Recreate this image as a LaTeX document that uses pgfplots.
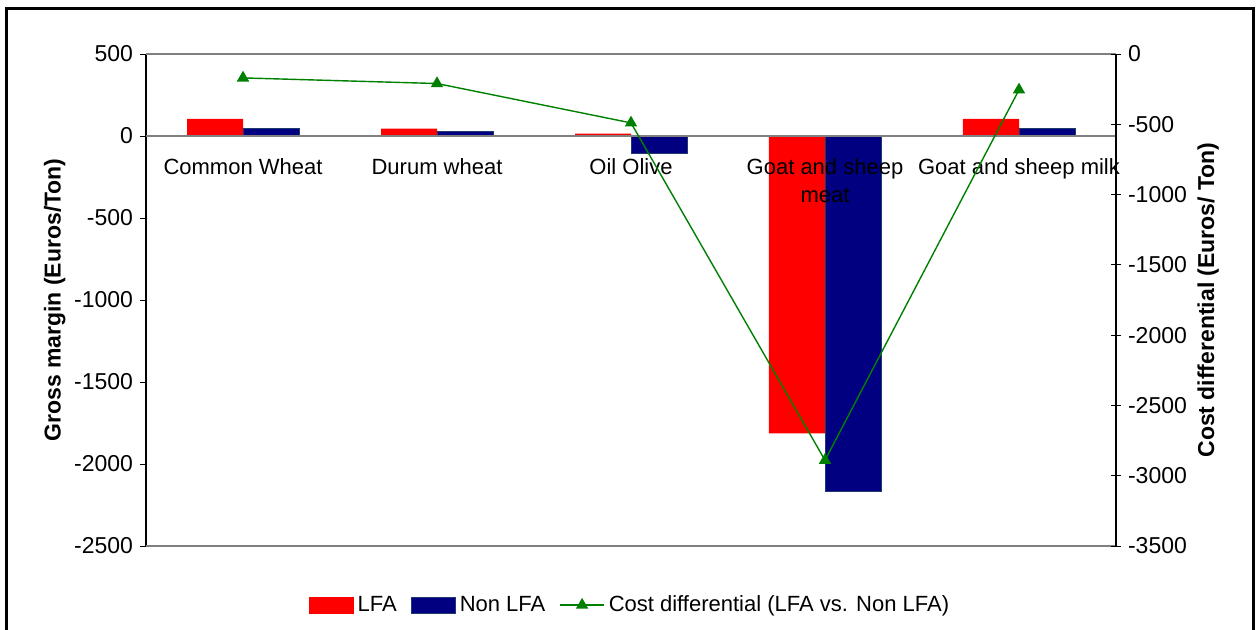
\documentclass[border=0pt]{standalone}
\usepackage{fontspec}
\setmainfont{Liberation Sans}
\usepackage{pgfplots}
\pgfplotsset{compat=1.18}
\definecolor{lfared}{HTML}{FF0000}
\definecolor{nonlfa}{HTML}{000080}
\definecolor{nonlfaedge}{HTML}{1F3A6E}
\definecolor{costgreen}{HTML}{008000}
\definecolor{gridgray}{HTML}{808080}
\pgfplotsset{my line legend/.style={legend image code/.code={\draw[mark repeat=2,mark phase=2,##1] plot coordinates {(0pt,0pt) (11pt,0pt) (22pt,0pt)};}}}
\begin{document}
\begin{tikzpicture}
\path[use as bounding box] (0pt,0pt) rectangle (629pt,314.5pt);
\draw[line width=1.5pt] (3.2pt,-20pt) -- (3.2pt,310.5pt) -- (626.5pt,310.5pt) -- (626.5pt,-20pt);
\begin{axis}[
  at={(73pt,41.5pt)}, anchor=south west,
  width=485pt, height=246pt, scale only axis,
  xmin=-0.5, xmax=4.5, ymin=-2500, ymax=500,
  axis x line=none, axis y line*=left,
  xtick=\empty,
  ytick={-2500,-2000,...,500},
  tick align=outside, major tick length=3pt,
  tick style={black, line width=0.5pt},
  axis line style={black, line width=0.6pt},
  yticklabel style={font=\fontsize{11.5}{13}\selectfont},
  /pgf/number format/assume math mode=true,
  /pgf/number format/1000 sep={},
  every axis y label/.style={at={(axis description cs:-0.094,0.5)}, rotate=90, anchor=center,
     font=\bfseries\fontsize{11.5}{13}\selectfont},
  ylabel={Gross margin (Euros/Ton)},
  ybar=0pt, bar width=28pt,
  clip=false,
]
\draw[gridgray, line width=0.6pt] (axis cs:-0.5,500) -- (axis cs:4.5,500);
\draw[gridgray, line width=0.6pt] (axis cs:-0.5,-2500) -- (axis cs:4.5,-2500);
\addplot[fill=lfared, draw=none] coordinates {(0,105) (1,45) (2,15) (3,-1813) (4,105)};
\addplot[fill=nonlfa, draw=nonlfaedge, line width=0.5pt] coordinates {(0,45) (1,26) (2,-105) (3,-2169) (4,45)};
\draw[gridgray, line width=0.6pt] (axis cs:-0.5,0) -- (axis cs:4.5,0);
\draw[gridgray, line width=0.6pt] (axis cs:0.5,0) ++(0,-2.5pt) -- ++(0,5pt);
\draw[gridgray, line width=0.6pt] (axis cs:1.5,0) ++(0,-2.5pt) -- ++(0,5pt);
\draw[gridgray, line width=0.6pt] (axis cs:2.5,0) ++(0,-2.5pt) -- ++(0,5pt);
\draw[gridgray, line width=0.6pt] (axis cs:3.5,0) ++(0,-2.5pt) -- ++(0,5pt);
\begin{scope}[every node/.style={anchor=north, inner sep=3pt, yshift=-8pt, align=center,
    font=\fontsize{11}{14}\selectfont}]
\node at (axis cs:0,0) {Common Wheat};
\node at (axis cs:1,0) {Durum wheat};
\node at (axis cs:2,0) {Oil Olive};
\node at (axis cs:3,0) {Goat and sheep\\meat};
\node at (axis cs:4,0) {Goat and sheep milk};
\end{scope}
\end{axis}
\begin{axis}[
  at={(73pt,41.5pt)}, anchor=south west,
  width=485pt, height=246pt, scale only axis,
  xmin=-0.5, xmax=4.5, ymin=-3500, ymax=0,
  axis x line=none, axis y line*=right,
  xtick=\empty,
  ytick={-3500,-3000,...,0},
  tick align=center, major tick length=5pt,
  tick style={black, line width=0.5pt},
  axis line style={black, line width=0.6pt},
  yticklabel style={font=\fontsize{11.5}{13}\selectfont},
  /pgf/number format/assume math mode=true,
  /pgf/number format/1000 sep={},
  every axis y label/.style={at={(axis description cs:1.095,0.5)}, rotate=90, anchor=center,
     font=\bfseries\fontsize{11.5}{13}\selectfont},
  ylabel={Cost differential (Euros/ Ton)},
  clip=false,
  legend style={at={(axis description cs:0.5,-0.12)}, anchor=center, draw=none, fill=none,
     legend columns=-1, font=\fontsize{11}{13}\selectfont,
     /tikz/every even column/.append style={column sep=5pt}},
  legend cell align=left,
]
\addlegendimage{legend image code/.code={\fill[lfared] (0pt,-4pt) rectangle (22pt,4pt);}}
\addlegendentry{LFA}
\addlegendimage{legend image code/.code={\filldraw[fill=nonlfa,draw=nonlfaedge,line width=0.5pt] (0pt,-4pt) rectangle (22pt,4pt);}}
\addlegendentry{Non LFA}
\addplot[costgreen, line width=0.7pt, mark=triangle*, mark size=2.9pt,
  mark options={solid, fill=costgreen}, my line legend]
  coordinates {(0,-170) (1,-210) (2,-490) (3,-2890) (4,-255)};
\addlegendentry{Cost differential (LFA vs. Non LFA)}
\end{axis}
\end{tikzpicture}
\end{document}
